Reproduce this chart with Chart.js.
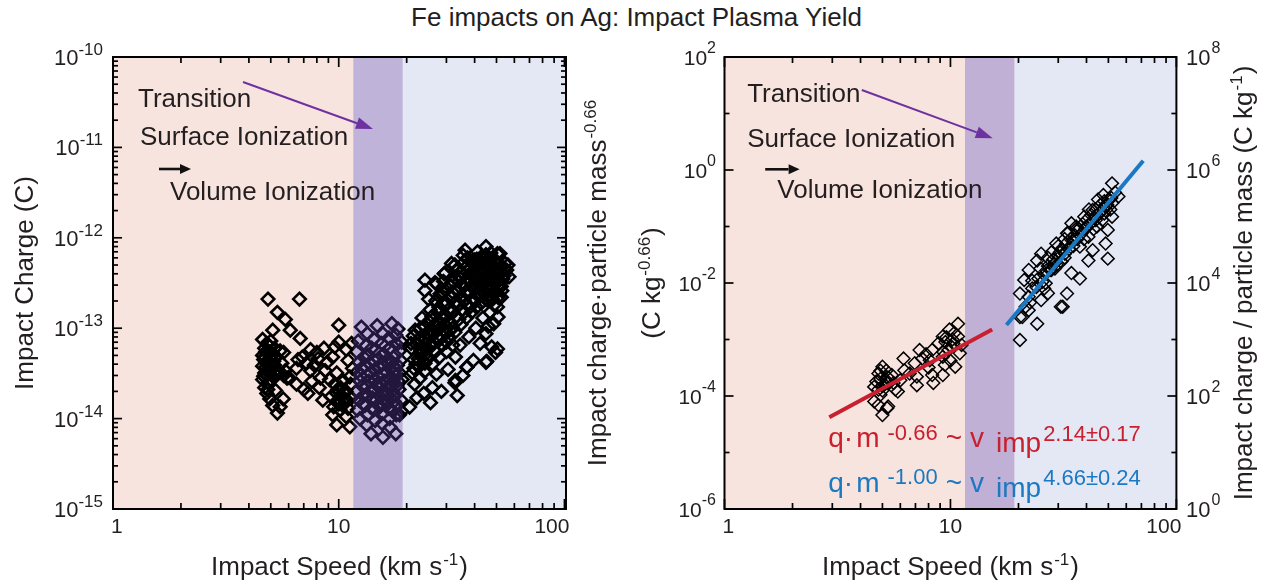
<!DOCTYPE html>
<html>
<head>
<meta charset="utf-8">
<script src="https://cdn.jsdelivr.net/npm/chart.js@4.4.1/dist/chart.umd.min.js"></script>
<style>
  html, body { margin: 0; padding: 0; background: #fff; }
  body { width: 1273px; height: 586px; position: relative; overflow: hidden; }
  #title { position: absolute; left: 0; top: 4px; width: 1273px; text-align: center;
           font: 26px/26px "Liberation Sans", Arial, sans-serif; color: #231f20; }
  canvas { position: absolute; top: 0; }
</style>
</head>
<body>
<div id="title">Fe impacts on Ag: Impact Plasma Yield</div>
<canvas id="chargeChart" width="580" height="586" style="left:0"></canvas>
<canvas id="yieldChart" width="693" height="586" style="left:580px"></canvas>
<script>
// speed (km/s), impact charge (C)
const chargeData = [
  // slow group ~5 km/s
  [4.86, 2.1e-13], [6.7, 2.1e-13], [5.35, 1.5e-13], [5.8, 1.25e-13], [5.1, 9.5e-14], [6.1, 9.5e-14],
  [6.75, 7.7e-14], [4.6, 7.5e-14], [4.8, 6.8e-14], [5.0, 7.2e-14], [4.7, 6.0e-14], [4.9, 5.5e-14],
  [5.2, 6.0e-14], [4.6, 5.0e-14], [5.0, 4.6e-14], [4.75, 4.2e-14], [5.3, 4.8e-14], [4.6, 3.8e-14],
  [4.9, 3.6e-14], [5.2, 3.9e-14], [4.7, 3.2e-14], [5.05, 3.0e-14], [4.6, 2.7e-14], [4.85, 2.5e-14],
  [5.4, 3.3e-14], [5.6, 4.1e-14], [5.5, 5.6e-14], [5.7, 3.0e-14], [5.9, 2.8e-14], [5.8, 3.4e-14],
  [5.7, 5.4e-14], [5.25, 2.05e-14], [5.68, 1.65e-14], [4.95, 1.65e-14], [5.35, 1.15e-14], [4.8, 1.9e-14],
  [5.1, 1.4e-14], [4.7, 2.2e-14], [5.5, 1.35e-14], [4.65, 4.5e-14], [4.9, 4.0e-14], [5.1, 5.2e-14],
  [4.8, 3.0e-14], [5.0, 2.7e-14], [4.75, 5.5e-14], [4.7, 4.8e-14], [4.95, 6.3e-14], [5.15, 4.3e-14],
  [4.75, 3.7e-14], [5.0, 3.4e-14], [4.65, 2.95e-14], [5.3, 3.0e-14], [4.85, 2.1e-14],
  // 6-12 km/s
  [10.0, 1.08e-13], [10.0, 7.0e-14], [8.6, 6.0e-14], [7.5, 5.8e-14], [6.9, 4.8e-14], [8.1, 4.6e-14],
  [9.4, 4.8e-14], [10.8, 5.8e-14], [11.0, 4.4e-14], [6.5, 3.6e-14], [7.5, 3.4e-14], [8.7, 3.4e-14],
  [9.8, 3.2e-14], [11.2, 2.9e-14], [7.0, 2.1e-14], [8.2, 2.2e-14], [9.8, 1.9e-14], [9.25, 1.75e-14],
  [10.6, 1.6e-14], [9.4, 1.1e-14], [9.8, 8.5e-15], [10.8, 1.05e-14], [11.2, 8.1e-15], [6.5, 2.4e-14],
  [6.0, 2.85e-14], [9.6, 2.4e-14], [10.2, 2.2e-14], [10.8, 2.0e-14], [9.9, 1.6e-14], [10.4, 1.4e-14],
  [11.0, 1.3e-14], [9.5, 1.35e-14], [10.5, 2.6e-14], [11.3, 2.4e-14], [11.4, 1.7e-14], [7.2, 4.1e-14],
  [7.8, 3.9e-14], [8.3, 2.8e-14], [7.6, 2.6e-14], [8.9, 4.2e-14], [9.1, 2.7e-14], [6.6, 4.5e-14],
  [8.0, 5.4e-14], [9.6, 6.2e-14], [11.4, 6.8e-14], [11.5, 3.6e-14], [7.3, 1.9e-14], [8.5, 1.6e-14],
  [10.3, 1.8e-14], [10.1, 1.25e-14], [10.5, 1.95e-14], [9.9, 2.1e-14], [10.9, 1.6e-14], [10.0, 1.45e-14],
  // transition band
  [13.4, 8.7e-14], [15.7, 8.7e-14], [18.3, 9.8e-14], [14.8, 1.07e-13], [17.2, 1.12e-13], [12.6, 1.03e-13],
  [12.2, 7.2e-14], [12.0, 5.5e-14], [12.3, 4.2e-14], [12.1, 3.3e-14], [12.4, 2.6e-14], [12.0, 2.0e-14],
  [12.3, 1.6e-14], [12.1, 1.25e-14], [12.4, 1.0e-14],
  [13.2, 6.4e-14], [13.5, 5.0e-14], [13.1, 3.8e-14], [13.4, 3.0e-14], [13.2, 2.3e-14], [13.5, 1.8e-14],
  [13.1, 1.4e-14], [13.4, 1.1e-14], [13.3, 8.5e-15],
  [14.3, 7.6e-14], [14.6, 5.8e-14], [14.2, 4.5e-14], [14.5, 3.5e-14], [14.4, 2.7e-14], [14.2, 2.1e-14],
  [14.6, 1.6e-14], [14.3, 1.25e-14], [14.5, 9.5e-15], [13.9, 6.8e-15],
  [15.5, 6.8e-14], [15.8, 5.2e-14], [15.4, 4.0e-14], [15.7, 3.1e-14], [15.5, 2.4e-14], [15.8, 1.9e-14],
  [15.4, 1.5e-14], [15.7, 1.15e-14], [15.6, 8.8e-15], [15.7, 6.2e-15],
  [16.7, 7.8e-14], [16.9, 6.0e-14], [16.6, 4.6e-14], [16.9, 3.6e-14], [16.7, 2.8e-14], [16.5, 2.2e-14],
  [16.9, 1.7e-14], [16.6, 1.3e-14], [16.8, 1.0e-14], [16.9, 8.0e-15],
  [17.9, 8.4e-14], [18.1, 6.6e-14], [17.8, 5.0e-14], [18.2, 3.9e-14], [17.9, 3.0e-14], [18.1, 2.3e-14],
  [17.8, 1.8e-14], [18.2, 1.4e-14], [18.0, 1.1e-14], [17.9, 6.8e-15],
  [19.0, 7.0e-14], [18.8, 4.4e-14], [19.1, 2.7e-14], [18.9, 1.6e-14], [19.0, 1.2e-14],
  [12.6, 3.6e-14], [13.8, 3.2e-14], [15.0, 2.9e-14], [16.2, 3.3e-14], [17.4, 2.6e-14], [18.6, 3.2e-14],
  [12.7, 2.3e-14], [13.9, 2.0e-14], [15.1, 2.2e-14], [16.3, 1.9e-14], [17.3, 2.0e-14], [18.5, 2.1e-14],
  [12.8, 1.45e-14], [14.0, 1.3e-14], [15.2, 1.35e-14], [16.2, 1.5e-14], [17.4, 1.2e-14], [18.6, 1.1e-14],
  [13.0, 4.7e-14], [15.0, 4.6e-14], [17.2, 4.2e-14], [18.6, 5.6e-14], [14.0, 6.0e-14], [16.0, 6.3e-14],
  [12.5, 3.0e-14], [13.6, 2.6e-14], [14.8, 2.4e-14], [15.9, 2.6e-14], [17.0, 2.4e-14], [18.3, 2.6e-14],
  [12.9, 1.8e-14], [14.1, 1.7e-14], [15.3, 1.75e-14], [16.4, 1.6e-14], [17.6, 1.55e-14], [13.7, 4.1e-14],
  [15.2, 3.7e-14], [16.6, 4.0e-14], [17.9, 3.5e-14],
  // fast group
  [36.3, 7.3e-13], [44.9, 8.0e-13], [50.5, 6.7e-13], [31.6, 5.2e-13], [40.0, 5.7e-13], [54.6, 5.2e-13],
  [29.3, 4.0e-13], [24.1, 3.4e-13], [27.1, 3.1e-13], [56.8, 3.7e-13], [52.5, 2.9e-13], [24.1, 2.6e-13],
  [28.1, 2.4e-13], [50.5, 1.72e-13], [52.5, 2.2e-13], [48.6, 1.12e-13], [44.9, 8.7e-14], [21.8, 9.5e-14],
  [20.9, 6.8e-14], [23.1, 5.7e-14], [24.1, 4.1e-14], [27.1, 3.1e-14], [32.9, 2.65e-14], [33.5, 1.8e-14],
  [25.5, 1.5e-14], [20.6, 1.34e-14], [37.0, 3.7e-14], [44.9, 4.2e-14], [49.5, 5.4e-14], [50.5, 5.9e-14],
  [42.3, 6.8e-14], [32.9, 4.8e-14], [37.7, 8.0e-14], [35.6, 6.4e-13], [32.7, 5.0e-13], [29.6, 4.1e-13],
  [26.7, 3.2e-13], [51.8, 6.7e-13], [56.2, 5.0e-13], [50.8, 1.33e-13], [47.6, 6.2e-14], [45.3, 4.3e-14],
  [36.9, 3.7e-14], [32.7, 2.5e-14],
  [21.2, 3.2e-14], [21.5, 4.5e-14], [21.0, 6.0e-14], [21.4, 8.2e-14], [21.7, 2.4e-14],
  [22.8, 3.8e-14], [23.2, 5.3e-14], [22.6, 7.5e-14], [23.0, 1.0e-13], [23.4, 1.3e-13], [22.9, 2.8e-14],
  [24.8, 4.6e-14], [25.3, 6.5e-14], [24.7, 9.0e-14], [25.1, 1.2e-13], [25.4, 1.6e-13], [25.0, 2.1e-13],
  [26.8, 5.5e-14], [27.2, 8.0e-14], [26.6, 1.1e-13], [27.4, 1.5e-13], [26.9, 2.0e-13],
  [28.8, 6.5e-14], [29.2, 9.5e-14], [28.6, 1.3e-13], [29.4, 1.8e-13], [28.9, 2.5e-13], [29.1, 3.3e-13],
  [30.8, 8.0e-14], [31.3, 1.15e-13], [30.6, 1.6e-13], [31.4, 2.2e-13], [30.9, 3.0e-13],
  [32.7, 9.0e-14], [33.3, 1.35e-13], [32.6, 1.9e-13], [33.4, 2.6e-13], [32.9, 3.6e-13], [33.2, 4.4e-13],
  [34.8, 1.1e-13], [35.3, 1.6e-13], [34.7, 2.2e-13], [35.4, 3.0e-13], [34.9, 4.2e-13],
  [36.8, 1.3e-13], [37.3, 1.8e-13], [36.6, 2.5e-13], [37.4, 3.4e-13], [36.9, 4.8e-13], [37.2, 6.0e-13],
  [38.8, 1.5e-13], [39.3, 2.1e-13], [38.6, 2.9e-13], [39.4, 3.9e-13], [38.9, 5.3e-13],
  [40.8, 1.7e-13], [41.3, 2.4e-13], [40.6, 3.2e-13], [41.4, 4.3e-13], [40.9, 5.8e-13], [41.2, 7.0e-13],
  [42.8, 1.9e-13], [43.3, 2.6e-13], [42.6, 3.5e-13], [43.4, 4.6e-13], [42.9, 6.2e-13],
  [44.8, 2.1e-13], [45.3, 2.8e-13], [44.6, 3.7e-13], [45.4, 4.9e-13], [44.9, 6.5e-13],
  [46.8, 1.5e-13], [47.3, 2.3e-13], [46.6, 3.0e-13], [47.4, 4.0e-13], [46.9, 5.3e-13], [47.2, 6.8e-13],
  [48.8, 1.8e-13], [49.3, 2.6e-13], [48.6, 3.4e-13], [49.4, 4.5e-13],
  [50.8, 2.2e-13], [51.3, 3.0e-13], [50.6, 4.0e-13], [52.8, 2.6e-13], [53.3, 3.5e-13], [55.5, 4.4e-13],
  [26.0, 2.2e-14], [28.5, 2.0e-14], [30.5, 3.5e-14], [23.8, 1.9e-14], [22.2, 1.7e-14], [35.5, 3.0e-14],
  [39.5, 4.4e-14], [30.0, 5.5e-14], [34.5, 6.5e-14], [40.5, 1.0e-13], [46.0, 1.05e-13], [43.5, 1.3e-13],
  [30.0, 1.9e-13], [34.0, 3.3e-13], [38.0, 4.0e-13], [42.0, 5.0e-13], [46.0, 5.8e-13], [27.8, 1.7e-13],
  [36.0, 2.0e-13], [44.0, 3.0e-13], [48.0, 3.9e-13], [52.0, 4.2e-13],
  [22.0, 4.0e-14], [22.1, 6.6e-14], [24.0, 5.0e-14], [24.2, 7.6e-14], [24.1, 1.05e-13], [26.0, 6.5e-14],
  [26.1, 9.3e-14], [25.9, 1.35e-13], [28.0, 7.5e-14], [28.0, 1.1e-13], [27.9, 1.6e-13], [28.1, 2.2e-13],
  [30.0, 9.0e-14], [30.1, 1.35e-13], [29.8, 2.6e-13], [32.0, 1.0e-13], [32.0, 1.55e-13], [31.9, 2.5e-13],
  [32.1, 3.3e-13], [34.0, 1.25e-13], [34.1, 1.85e-13], [33.9, 2.6e-13], [34.0, 3.7e-13], [36.0, 1.5e-13],
  [35.9, 2.9e-13], [36.1, 3.9e-13], [36.0, 5.4e-13], [38.0, 1.7e-13], [38.1, 2.5e-13], [37.9, 3.4e-13],
  [38.0, 4.6e-13], [40.0, 2.0e-13], [40.1, 2.8e-13], [39.9, 3.6e-13], [40.0, 4.9e-13], [42.0, 2.2e-13],
  [42.1, 3.0e-13], [41.9, 4.0e-13], [42.0, 5.5e-13], [44.0, 2.4e-13], [44.1, 3.3e-13], [43.9, 4.2e-13],
  [44.0, 5.7e-13], [46.0, 2.0e-13], [46.1, 2.6e-13], [45.9, 3.4e-13], [46.0, 4.4e-13], [48.0, 2.1e-13],
  [48.1, 2.9e-13], [47.9, 4.6e-13], [48.0, 6.0e-13], [50.0, 2.5e-13], [50.1, 3.4e-13], [49.9, 4.4e-13],
  [50.0, 5.5e-13], [52.0, 3.1e-13], [52.1, 4.8e-13], [54.0, 3.8e-13], [54.1, 4.5e-13],
  [21.5, 3.6e-14], [22.5, 4.6e-14], [23.5, 6.3e-14], [24.5, 5.8e-14], [25.5, 8.0e-14], [26.5, 7.0e-14],
  [27.5, 9.5e-14], [29.5, 1.1e-13], [31.0, 9.5e-14], [24.0, 3.3e-14], [26.0, 4.0e-14], [28.0, 4.8e-14],
  [30.0, 7.0e-14], [32.0, 6.5e-14]
];

// speed (km/s), charge * mass^-0.66 (C kg^-0.66)
const yieldData = [
  [10.8, 1.9e-3], [9.9, 1.5e-3], [9.25, 1.13e-3], [10.8, 1.13e-3], [8.86, 8.6e-4], [10.1, 7.5e-4],
  [11.0, 5.7e-4], [9.25, 4.95e-4], [10.5, 3.3e-4], [9.45, 3.55e-4], [8.3, 6.5e-4], [7.3, 6.5e-4],
  [8.1, 4.3e-4], [6.95, 3.8e-4], [8.3, 2.35e-4], [9.25, 2.35e-4], [7.1, 2.2e-4], [6.25, 2.85e-4],
  [7.1, 1.55e-4], [6.0, 1.9e-4], [5.0, 3.3e-4], [4.8, 2.5e-4], [5.5, 2.35e-4], [4.6, 1.45e-4],
  [5.25, 1.7e-4], [5.7, 1.3e-4], [4.9, 1.05e-4], [4.8, 6.9e-5], [5.25, 6.1e-5], [5.0, 4.6e-5],
  [4.6, 8.0e-5], [4.9, 2.0e-4], [5.1, 1.6e-4], [5.3, 2.1e-4], [5.0, 1.25e-4], [4.7, 1.8e-4],
  [5.2, 2.8e-4], [5.6, 1.7e-4], [4.9, 2.8e-4], [9.5, 9.0e-4], [10.2, 1.0e-3], [9.8, 6.5e-4],
  [10.4, 1.3e-3], [9.3, 6.0e-4], [10.0, 4.2e-4], [7.5, 4.6e-4], [8.0, 3.2e-4], [7.8, 5.5e-4],
  [6.6, 2.5e-4], [11.2, 8.0e-4], [6.2, 4.6e-4], [8.4, 1.7e-4], [5.85, 1.2e-4], [5.3, 6.5e-5],
  [5.0, 1.5e-4], [5.2, 1.9e-4], [4.8, 1.3e-4], [10.3, 8.5e-4], [9.6, 1.1e-3],
  // fast group
  [51.9, 0.58], [47.5, 0.36], [55.4, 0.34], [48.6, 0.23], [42.6, 0.196], [51.9, 0.149],
  [39.1, 0.149], [34.3, 0.114], [44.5, 0.10], [49.7, 0.087], [32.8, 0.076], [40.8, 0.066],
  [48.6, 0.050], [29.4, 0.050], [37.4, 0.044], [25.2, 0.033], [32.1, 0.033], [42.6, 0.038],
  [49.7, 0.027], [40.8, 0.025], [24.2, 0.025], [28.8, 0.022], [22.2, 0.017], [27.6, 0.017],
  [34.3, 0.015], [37.4, 0.012], [21.2, 0.0113], [26.4, 0.0099], [32.8, 0.0065], [20.3, 0.0065],
  [25.2, 0.005], [30.8, 0.0038], [22.2, 0.0033], [20.3, 0.0025], [24.2, 0.0019], [20.8, 0.0025],
  [31.4, 0.0038], [20.3, 9.8e-4], [27.0, 0.0066], [22.2, 0.0057],
  [23.0, 0.008], [24.5, 0.012], [26.0, 0.014], [27.0, 0.020], [28.5, 0.026], [30.0, 0.030],
  [31.0, 0.040], [32.5, 0.050], [34.0, 0.060], [35.5, 0.070], [37.0, 0.090], [38.5, 0.110],
  [40.0, 0.130], [42.0, 0.160], [44.0, 0.200], [46.0, 0.240], [48.0, 0.280], [50.0, 0.300],
  [52.0, 0.260], [53.5, 0.400], [45.0, 0.300], [41.0, 0.200], [36.0, 0.100], [33.0, 0.075],
  [30.0, 0.045], [27.0, 0.028], [25.0, 0.018], [23.0, 0.011], [29.0, 0.018], [35.0, 0.045],
  [39.0, 0.060], [43.0, 0.090], [47.0, 0.130], [51.0, 0.200], [26.0, 0.008], [31.0, 0.024],
  [24.0, 0.0085], [25.5, 0.0105], [26.5, 0.0165], [28.0, 0.017], [29.5, 0.021], [30.5, 0.035],
  [32.0, 0.028], [33.5, 0.040], [35.0, 0.055], [36.5, 0.060], [38.0, 0.075], [39.5, 0.090],
  [41.5, 0.110], [43.5, 0.140], [45.5, 0.170], [47.5, 0.200], [49.5, 0.240], [51.5, 0.320],
  [28.0, 0.035], [32.0, 0.060], [36.0, 0.090], [40.0, 0.100], [44.0, 0.130], [48.0, 0.170],
  [22.5, 0.0045], [21.5, 0.0038]
];

// power-law fits, drawn as two-point lines
const slowFitSpeed = [2.91, 15.3];
const slowFitYield = [4.2e-5, 1.51e-3];
const fastFitSpeed = [17.7, 71.3];
const fastFitYield = [1.8e-3, 1.46];

// regime limits (km/s): surface ionization | transition | volume ionization
const regimeBounds = [11.6, 19.2];

const speedTickLabels = [1, 10, 100];
const chargeExps = [-15, -14, -13, -12, -11, -10];
const yieldExps = [-6, -4, -2, 0, 2];
const massExps = [0, 2, 4, 6, 8];

const FONT = '"Liberation Sans", Arial, sans-serif';
const INK = '#231f20';

function richText(ctx, parts, x, y, align) {
  // parts: [text, size, gapBefore, dy]
  let total = 0;
  const widths = parts.map(p => {
    ctx.font = p[1] + 'px ' + FONT;
    const w = ctx.measureText(p[0]).width;
    total += (p[2] || 0) + w;
    return w;
  });
  let cx = align === 'center' ? x - total / 2 : (align === 'right' ? x - total : x);
  ctx.textAlign = 'left';
  ctx.textBaseline = 'alphabetic';
  parts.forEach((p, i) => {
    cx += p[2] || 0;
    ctx.font = p[1] + 'px ' + FONT;
    ctx.fillText(p[0], cx, y + (p[3] || 0));
    cx += widths[i];
  });
}

function rotatedText(ctx, parts, x, y) {
  ctx.save();
  ctx.translate(x, y);
  ctx.rotate(-Math.PI / 2);
  richText(ctx, parts, 0, 0, 'center');
  ctx.restore();
}

function arrow(ctx, x1, y1, x2, y2, color, lw, head, half) {
  const ang = Math.atan2(y2 - y1, x2 - x1);
  const bx = x2 - head * Math.cos(ang), by = y2 - head * Math.sin(ang);
  ctx.strokeStyle = color;
  ctx.fillStyle = color;
  ctx.lineWidth = lw;
  ctx.beginPath(); ctx.moveTo(x1, y1); ctx.lineTo(bx, by); ctx.stroke();
  ctx.beginPath();
  ctx.moveTo(x2, y2);
  ctx.lineTo(bx + half * Math.sin(ang), by - half * Math.cos(ang));
  ctx.lineTo(bx - half * Math.sin(ang), by + half * Math.cos(ang));
  ctx.closePath();
  ctx.fill();
}

function seg(ctx, x1, y1, x2, y2) {
  ctx.beginPath(); ctx.moveTo(x1, y1); ctx.lineTo(x2, y2); ctx.stroke();
}

function logTicks(min, max) {
  const out = [];
  for (let e = Math.floor(Math.log10(min)); e <= Math.ceil(Math.log10(max)); e++) {
    for (let m = 1; m < 10; m++) {
      const v = m * Math.pow(10, e);
      if (v >= min * 0.999 && v <= max * 1.001) out.push({ v: v, major: m === 1 });
    }
  }
  return out;
}

function drawBands(chart, purple) {
  const { ctx, chartArea: a, scales: { x } } = chart;
  const p1 = x.getPixelForValue(regimeBounds[0]);
  const p2 = x.getPixelForValue(regimeBounds[1]);
  ctx.save();
  ctx.fillStyle = '#f8e4de';
  ctx.fillRect(a.left, a.top, p1 - a.left, a.bottom - a.top);
  ctx.fillStyle = '#e4e8f5';
  ctx.fillRect(p2, a.top, a.right - p2, a.bottom - a.top);
  if (purple) {
    ctx.fillStyle = purple;
    ctx.fillRect(p1, a.top, p2 - p1, a.bottom - a.top);
  }
  ctx.restore();
}

function drawSpeedAxis(chart) {
  const { ctx, chartArea: a, scales: { x } } = chart;
  ctx.strokeStyle = '#000';
  ctx.lineWidth = 1.7;
  logTicks(x.min, x.max).forEach(t => {
    const px = x.getPixelForValue(t.v);
    const len = t.major ? 10 : 6;
    seg(ctx, px, a.bottom, px, a.bottom - len);
    seg(ctx, px, a.top, px, a.top + len);
  });
  ctx.fillStyle = INK;
  ctx.font = '21px ' + FONT;
  speedTickLabels.forEach((v, i) => {
    const px = x.getPixelForValue(v);
    if (i === 0) { ctx.textAlign = 'left'; ctx.fillText(String(v), px - 2, a.bottom + 24); }
    else if (i === speedTickLabels.length - 1) { ctx.textAlign = 'right'; ctx.fillText(String(v), px + 5, a.bottom + 24); }
    else { ctx.textAlign = 'center'; ctx.fillText(String(v), px, a.bottom + 24); }
  });
  richText(ctx, [['Impact Speed (km s', 26], ['-1', 17, 1, -10], [')', 26, 1, 0]],
    (a.left + a.right) / 2, a.bottom + 66, 'center');
}

function drawAnnotations(ctx, a, o) {
  ctx.fillStyle = INK;
  ctx.font = '26px ' + FONT;
  ctx.textAlign = 'left';
  ctx.textBaseline = 'alphabetic';
  ctx.fillText('Transition', a.left + o.tr[0], a.top + o.tr[1]);
  ctx.fillText('Surface Ionization', a.left + o.su[0], a.top + o.su[1]);
  ctx.fillText('Volume Ionization', a.left + o.vo[0], a.top + o.vo[1]);
  arrow(ctx, a.left + o.ba[0], a.top + o.ba[1], a.left + o.ba[2], a.top + o.ba[1], '#111', 2.6, 11, 5);
  arrow(ctx, a.left + o.pa[0], a.top + o.pa[1], a.left + o.pa[2], a.top + o.pa[3], '#6e32a0', 2, 17, 6);
}

const chargeDecor = {
  id: 'chargeDecor',
  beforeDatasetsDraw(chart) { drawBands(chart, null); },
  afterDatasetsDraw(chart) {
    const { ctx, chartArea: a, scales: { x, y } } = chart;
    ctx.save();
    // translucent transition band lies over the points
    const p1 = x.getPixelForValue(regimeBounds[0]);
    const p2 = x.getPixelForValue(regimeBounds[1]);
    ctx.fillStyle = 'rgba(91,57,156,0.384)';
    ctx.fillRect(p1, a.top, p2 - p1, a.bottom - a.top);

    ctx.strokeStyle = '#000';
    ctx.lineWidth = 1.7;
    logTicks(y.min, y.max).forEach(t => {
      const py = y.getPixelForValue(t.v);
      const len = t.major ? 9 : 5;
      seg(ctx, a.left, py, a.left + len, py);
      seg(ctx, a.right, py, a.right - len, py);
    });
    drawSpeedAxis(chart);
    ctx.strokeStyle = '#000';
    ctx.lineWidth = 2;
    ctx.strokeRect(a.left, a.top, a.right - a.left, a.bottom - a.top);

    ctx.fillStyle = INK;
    chargeExps.forEach(e => {
      const py = y.getPixelForValue(Math.pow(10, e));
      richText(ctx, [['10', 22, 0, 8], [String(e), 17, 0, -2]], a.left - 10, py, 'right');
    });
    rotatedText(ctx, [['Impact Charge (C)', 26]], 33, (a.top + a.bottom) / 2);

    drawAnnotations(ctx, a, {
      tr: [25, 50], su: [27, 88], vo: [57, 143], ba: [46, 112, 78], pa: [130, 25, 260, 72]
    });
    ctx.restore();
  }
};

const yieldDecor = {
  id: 'yieldDecor',
  beforeDatasetsDraw(chart) { drawBands(chart, '#c0b0d6'); },
  afterDatasetsDraw(chart) {
    const { ctx, chartArea: a, scales: { x, y, y2 } } = chart;
    ctx.save();
    ctx.strokeStyle = '#000';
    ctx.lineWidth = 1.7;
    for (let e = yieldExps[0]; e <= yieldExps[yieldExps.length - 1]; e++) {
      const py = y.getPixelForValue(Math.pow(10, e));
      const len = e % 2 === 0 ? 9 : 5;
      seg(ctx, a.left, py, a.left + len, py);
      seg(ctx, a.right, py, a.right - len, py);
    }
    drawSpeedAxis(chart);
    ctx.strokeStyle = '#000';
    ctx.lineWidth = 2;
    ctx.strokeRect(a.left, a.top, a.right - a.left, a.bottom - a.top);

    ctx.fillStyle = INK;
    yieldExps.forEach(e => {
      const py = y.getPixelForValue(Math.pow(10, e));
      richText(ctx, [['10', 21, 0, 7.5], [String(e), 16, 0, -4]], a.left - 8.5, py, 'right');
    });
    massExps.forEach(e => {
      const py = y2.getPixelForValue(Math.pow(10, e));
      richText(ctx, [['10', 22, 0, 7.5], [String(e), 16, 1, -4]], a.right + 9.6, py, 'left');
    });

    const cy = (a.top + a.bottom) / 2;
    rotatedText(ctx, [['Impact charge\u00b7particle mass', 26], ['-0.66', 17, 1, -10]], 26, cy);
    rotatedText(ctx, [['(C kg', 26], ['-0.66', 17, 1, -10], [')', 26, 1, 0]], 80, cy);
    rotatedText(ctx, [['Impact charge / particle mass (C kg', 26], ['-1', 17, 1, -10], [')', 26, 1, 0]], 672, cy);

    drawAnnotations(ctx, a, {
      tr: [22.7, 44.7], su: [22.7, 89.7], vo: [52.8, 141.3], ba: [40.7, 112.3, 75.1], pa: [137.3, 33, 268.2, 81.3]
    });

    const ex = a.left + 103.8;
    ctx.fillStyle = '#c8202f';
    richText(ctx, [['q', 28], ['\u00b7', 28, 0, 0], ['m', 28, 3, 0], ['-0.66', 22, 8, -6.7], ['~', 28, 8, 0],
      ['v', 28, 8, 0], ['imp', 28, 12, 5], ['2.14\u00b10.17', 22, 2, -6]], ex, a.top + 389.7, 'left');
    ctx.fillStyle = '#1b78c2';
    richText(ctx, [['q', 28], ['\u00b7', 28, 0, 0], ['m', 28, 3, 0], ['-1.00', 22, 8, -7.7], ['~', 28, 8, 0],
      ['v', 28, 8, 0], ['imp', 28, 12, 5], ['4.66\u00b10.24', 22, 2, -6.7]], ex, a.top + 434.7, 'left');
    ctx.restore();
  }
};

const baseOptions = (padding, scales) => ({
  responsive: false,
  animation: false,
  devicePixelRatio: 1,
  events: [],
  layout: { padding: padding },
  plugins: { legend: { display: false }, tooltip: { enabled: false } },
  scales: scales
});

new Chart(document.getElementById('chargeChart'), {
  type: 'scatter',
  data: {
    datasets: [{
      data: chargeData.map(p => ({ x: p[0], y: p[1] })),
      pointStyle: 'rectRot',
      pointRadius: 6.3,
      pointBorderWidth: 2.6,
      pointBorderColor: '#000',
      pointBackgroundColor: 'rgba(0,0,0,0)'
    }]
  },
  options: baseOptions({ left: 113, top: 57, right: 14, bottom: 77 }, {
    x: { type: 'logarithmic', min: 1, max: 101.6, display: false },
    y: { type: 'logarithmic', min: 1e-15, max: 1e-10, display: false }
  }),
  plugins: [chargeDecor]
});

new Chart(document.getElementById('yieldChart'), {
  type: 'scatter',
  data: {
    datasets: [{
      type: 'line',
      data: slowFitSpeed.map((s, i) => ({ x: s, y: slowFitYield[i] })),
      borderColor: '#c8202f', borderWidth: 4, pointRadius: 0, fill: false, showLine: true
    }, {
      type: 'line',
      data: fastFitSpeed.map((s, i) => ({ x: s, y: fastFitYield[i] })),
      borderColor: '#1b78c2', borderWidth: 4, pointRadius: 0, fill: false, showLine: true
    }, {
      data: yieldData.map(p => ({ x: p[0], y: p[1] })),
      pointStyle: 'rectRot',
      pointRadius: 6.4,
      pointBorderWidth: 1.5,
      pointBorderColor: '#000',
      pointBackgroundColor: 'rgba(0,0,0,0)'
    }]
  },
  options: baseOptions({ left: 144.5, top: 57, right: 96.6, bottom: 77 }, {
    x: { type: 'logarithmic', min: 1, max: 100, display: false },
    y: { type: 'logarithmic', min: 1e-6, max: 1e2, display: false },
    y2: { type: 'logarithmic', position: 'right', min: 1, max: 1e8, display: false }
  }),
  plugins: [yieldDecor]
});
</script>
</body>
</html>
